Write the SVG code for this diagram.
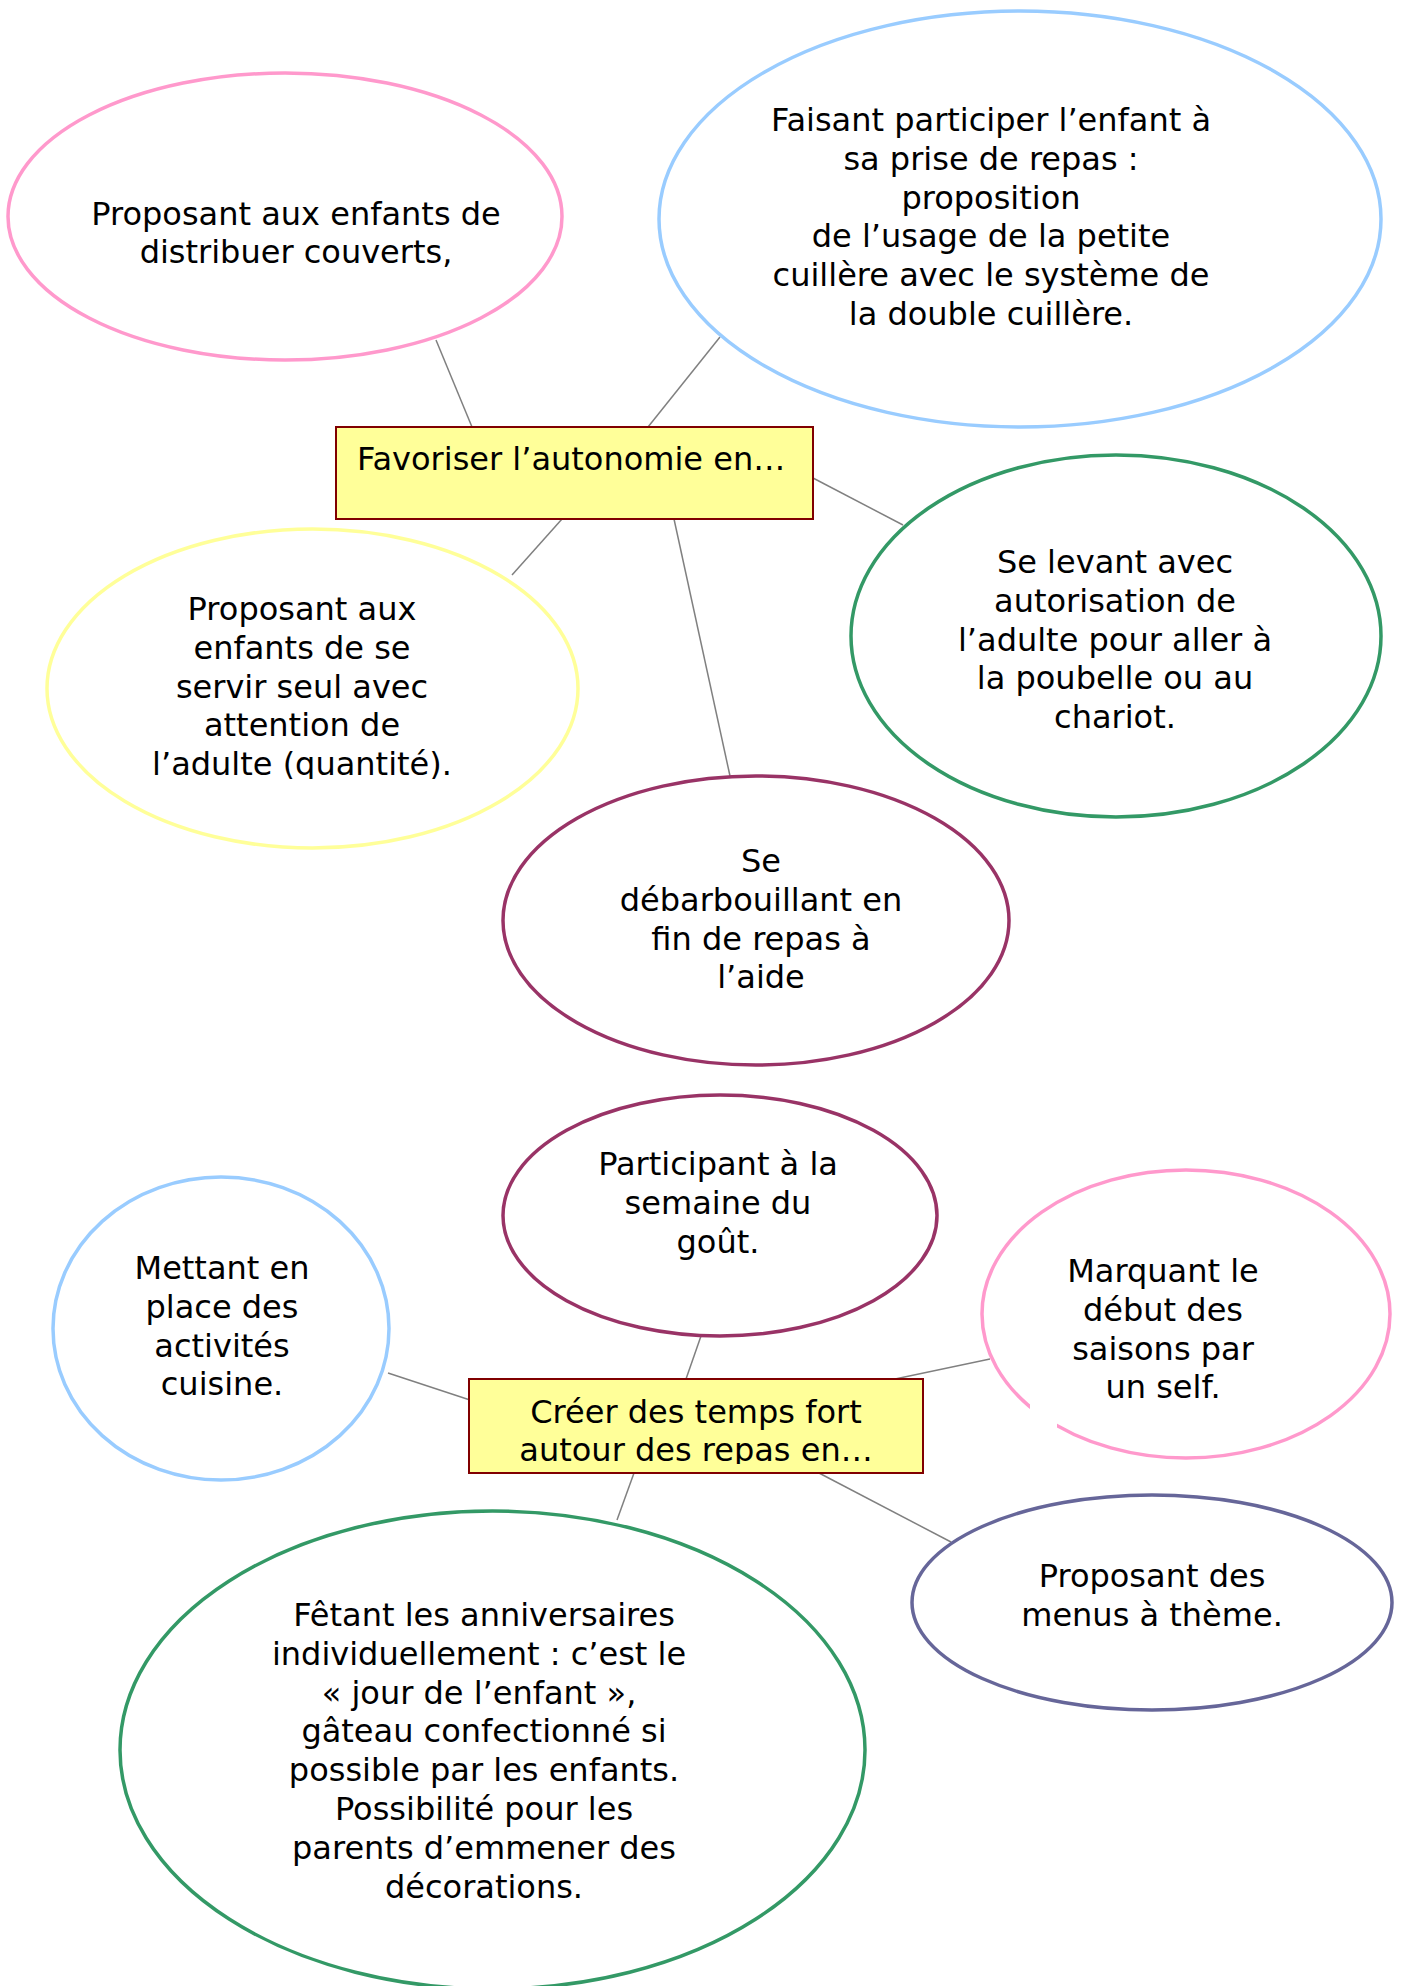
<svg xmlns="http://www.w3.org/2000/svg" width="1402" height="1986" viewBox="0 0 1402 1986">
<style>
  text { font-family: "DejaVu Sans", Verdana, sans-serif; font-size: 32px; fill: #000; }
  .c { text-anchor: middle; }
  .node { fill: #fff; stroke-width: 3.5; }
  .box { fill: #FFFF99; stroke: #800000; stroke-width: 2; }
  .edge { stroke: #808080; stroke-width: 1.5; fill: none; }
  .pink { stroke: #FF99CC; }
  .blue { stroke: #99CCFF; }
  .yellow { stroke: #FFFF99; }
  .green { stroke: #339966; }
  .plum { stroke: #993366; }
  .navy { stroke: #666699; }
</style>
<defs>
  <clipPath id="clipYellow"><rect x="40" y="520" width="560" height="259"/></clipPath>
  <clipPath id="clipPlum"><rect x="500" y="780" width="520" height="228"/></clipPath>
  <clipPath id="clipBox2"><rect x="469" y="1379" width="454" height="85"/></clipPath>
</defs>
<rect width="1402" height="1986" fill="#fff"/>

<g id="connectors">
  <line class="edge" x1="436" y1="340" x2="472" y2="427"/>
  <line class="edge" x1="720" y1="337" x2="648" y2="427"/>
  <line class="edge" x1="813" y1="478" x2="903" y2="525"/>
  <line class="edge" x1="562" y1="519" x2="512" y2="575"/>
  <line class="edge" x1="674" y1="519" x2="730" y2="776"/>
  <line class="edge" x1="388" y1="1373" x2="470" y2="1400"/>
  <line class="edge" x1="701" y1="1336" x2="686" y2="1379"/>
  <line class="edge" x1="895" y1="1379" x2="990" y2="1359"/>
  <line class="edge" x1="634" y1="1473" x2="617" y2="1520"/>
  <line class="edge" x1="819" y1="1473" x2="951" y2="1542"/>
</g>

<g id="node-distribuer">
  <ellipse class="node pink" cx="285" cy="216.5" rx="277" ry="143.5"/>
  <text class="c" x="296" y="225">Proposant aux enfants de</text>
  <text class="c" x="296" y="263">distribuer couverts,</text>
</g>

<g id="node-participer">
  <ellipse class="node blue" cx="1020" cy="219" rx="361" ry="208"/>
  <text class="c" x="991" y="131">Faisant participer l’enfant à</text>
  <text class="c" x="991" y="170">sa prise de repas :</text>
  <text class="c" x="991" y="208.6">proposition</text>
  <text class="c" x="991" y="247.4">de l’usage de la petite</text>
  <text class="c" x="991" y="286.2">cuillère avec le système de</text>
  <text class="c" x="991" y="325">la double cuillère.</text>
</g>

<g id="node-favoriser">
  <rect class="box" x="336" y="427" width="477" height="92"/>
  <text x="357" y="470">Favoriser l’autonomie en…</text>
</g>

<g id="node-servir">
  <ellipse class="node yellow" cx="312.5" cy="688.5" rx="265.5" ry="159.5"/>
  <g clip-path="url(#clipYellow)">
    <text class="c" x="302" y="620">Proposant aux</text>
    <text class="c" x="302" y="658.8">enfants de se</text>
    <text class="c" x="302" y="697.6">servir seul avec</text>
    <text class="c" x="302" y="736.4">attention de</text>
    <text class="c" x="302" y="775.2">l’adulte (quantité).</text>
  </g>
</g>

<g id="node-levant">
  <ellipse class="node green" cx="1116" cy="636" rx="265" ry="181"/>
  <text class="c" x="1115" y="573">Se levant avec</text>
  <text class="c" x="1115" y="611.8">autorisation de</text>
  <text class="c" x="1115" y="650.6">l’adulte pour aller à</text>
  <text class="c" x="1115" y="689.4">la poubelle ou au</text>
  <text class="c" x="1115" y="728.2">chariot.</text>
</g>

<g id="node-debarbouillant">
  <ellipse class="node plum" cx="756" cy="920.5" rx="253" ry="144.5"/>
  <g clip-path="url(#clipPlum)">
    <text class="c" x="761" y="872">Se</text>
    <text class="c" x="761" y="910.8">débarbouillant en</text>
    <text class="c" x="761" y="949.6">fin de repas à</text>
    <text class="c" x="761" y="988.4">l’aide</text>
  </g>
</g>

<g id="node-gout">
  <ellipse class="node plum" cx="720" cy="1215.5" rx="217" ry="120.5"/>
  <text class="c" x="718" y="1175">Participant à la</text>
  <text class="c" x="718" y="1213.8">semaine du</text>
  <text class="c" x="718" y="1252.6">goût.</text>
</g>

<g id="node-cuisine">
  <ellipse class="node blue" cx="221" cy="1328.5" rx="168" ry="151.5"/>
  <text class="c" x="222" y="1279">Mettant en</text>
  <text class="c" x="222" y="1317.8">place des</text>
  <text class="c" x="222" y="1356.6">activités</text>
  <text class="c" x="222" y="1395.4">cuisine.</text>
</g>

<g id="node-saisons">
  <ellipse class="node pink" cx="1186" cy="1314" rx="204" ry="144"/>
  <rect x="1030" y="1398" width="27" height="40" fill="#fff"/>
  <text class="c" x="1163" y="1282">Marquant le</text>
  <text class="c" x="1163" y="1320.8">début des</text>
  <text class="c" x="1163" y="1359.6">saisons par</text>
  <text class="c" x="1163" y="1398.4">un self.</text>
</g>

<g id="node-temps-fort">
  <rect class="box" x="469" y="1379" width="454" height="94"/>
  <g clip-path="url(#clipBox2)">
    <text class="c" x="696" y="1423">Créer des temps fort</text>
    <text class="c" x="696" y="1461">autour des repas en…</text>
  </g>
</g>

<g id="node-menus">
  <ellipse class="node navy" cx="1152" cy="1602.5" rx="240" ry="107.5"/>
  <text class="c" x="1152" y="1587">Proposant des</text>
  <text class="c" x="1152" y="1626">menus à thème.</text>
</g>

<g id="node-anniversaires">
  <ellipse class="node green" cx="492.5" cy="1750" rx="372.5" ry="239"/>
  <text class="c" x="484" y="1626">Fêtant les anniversaires</text>
  <text class="c" x="479" y="1664.8">individuellement : c’est le</text>
  <text class="c" x="479" y="1703.6">« jour de l’enfant »,</text>
  <text class="c" x="484" y="1742.4">gâteau confectionné si</text>
  <text class="c" x="484" y="1781.2">possible par les enfants.</text>
  <text class="c" x="484" y="1820">Possibilité pour les</text>
  <text class="c" x="484" y="1858.8">parents d’emmener des</text>
  <text class="c" x="484" y="1897.6">décorations.</text>
</g>
</svg>
